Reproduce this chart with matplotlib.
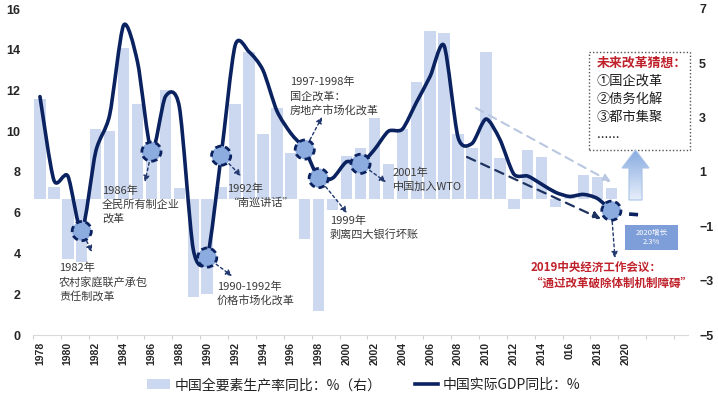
import numpy as np
import matplotlib
matplotlib.use("Agg")
import matplotlib.pyplot as plt
from matplotlib.path import Path
from matplotlib.patches import PathPatch, Patch, Polygon, Rectangle
from matplotlib.lines import Line2D
from matplotlib.colors import LinearSegmentedColormap

plt.rcParams['font.family'] = ['Noto Sans CJK SC', 'DejaVu Sans']

# data
years = list(range(1978, 2020))
gdp = [11.7, 7.6, 7.8, 5.1, 9.0, 10.8, 15.2, 13.4, 9.0, 11.7,
       11.2, 4.2, 3.8, 8.8, 14.2, 13.9, 13.0, 11.0, 9.9, 9.1,
       7.7, 7.7, 8.5, 8.4, 9.1, 10.0, 10.1, 11.4, 12.7, 14.2,
       9.7, 9.4, 10.6, 9.6, 7.9, 7.8, 7.4, 7.0, 6.8, 6.9,
       6.7, 6.1]
tfp = [3.7, 0.45, -2.2, -2.3, 2.6, 2.5, 5.55, 3.5, 1.6, 4.0,
       0.4, -3.6, -3.5, 0.45, 3.5, 5.4, 2.4, 3.35, 1.7, -1.45,
       -4.1, -0.4, 1.6, 1.9, 3.0, 1.3, 2.6, 4.3, 6.2, 6.1,
       2.4, 1.9, 5.4, 1.5, -0.35, 1.8, 1.55, -0.3, 0.05, 0.9,
       0.8, 0.4]
proj_years = [2019, 2020, 2021]
proj_gdp = [6.1, 5.95, 5.9]
marker_years = [1981, 1986, 1990, 1991, 1997, 1998, 2001, 2019]
tick_years = list(range(1978, 2021, 2))
tick_labels = [str(y) for y in tick_years]
tick_labels[tick_years.index(2016)] = '016'

NAVY = '#0b2260'
BAR = '#cbd8ef'
TXT = '#3a3a3a'
RED = '#c0222c'


def smooth_path(xs, ys, k=0.13):
    pts = np.column_stack([xs, ys]).astype(float)
    n = len(pts)
    verts = [pts[0]]
    codes = [Path.MOVETO]
    for i in range(n - 1):
        p0 = pts[i - 1] if i > 0 else pts[i]
        p1, p2 = pts[i], pts[i + 1]
        p3 = pts[i + 2] if i + 2 < n else pts[i + 1]
        verts += [p1 + (p2 - p0) * k, p2 - (p3 - p1) * k, p2]
        codes += [Path.CURVE4] * 3
    return Path(verts, codes)


W, H = 718, 395
fig = plt.figure(figsize=(W / 100, H / 100), dpi=100)
ax = fig.add_axes([33 / W, 1 - 335 / H, (688 - 33) / W, (335 - 9) / H])
ax2 = ax.twinx()
ax.set_zorder(ax2.get_zorder() + 1)
ax.patch.set_visible(False)

# bars on right axis
ax2.bar(years, tfp, width=0.82, color=BAR, zorder=1)
ax2.set_ylim(-5, 7)
ax2.set_yticks(range(-5, 8, 2))

# GDP line on left axis
ax.add_patch(PathPatch(smooth_path(years, gdp), fill=False, edgecolor=NAVY,
                       lw=2.6, capstyle='round', joinstyle='round', zorder=3))
ax.plot(proj_years, proj_gdp, color=NAVY, lw=2.6, linestyle=(0, (2.5, 2.5)), zorder=3)

ax.set_xlim(1977.5, 2024.5)
ax.set_ylim(0, 16)
ax.set_yticks(range(0, 17, 2))
ax.set_xticks(tick_years)
ax.set_xticklabels(tick_labels, rotation=90)
ax.set_xticks(np.arange(1977.5, 2024.6, 2), minor=True)
ax.tick_params(axis='x', which='major', length=0, pad=5)
ax.tick_params(axis='x', which='minor', length=3, color='#d0d0d0', width=0.8)
ax.tick_params(axis='y', length=0, pad=9)
ax2.tick_params(axis='y', length=0, pad=8)
for a in (ax, ax2):
    for s in a.spines.values():
        s.set_visible(False)
    for lab in a.get_xticklabels() + a.get_yticklabels():
        lab.set_fontfamily('Liberation Sans')
        lab.set_fontweight('bold')
        lab.set_color('#262626')
        lab.set_fontsize(9)
for lab in ax.get_xticklabels():
    lab.set_fontsize(7.5)
ax.spines['bottom'].set_visible(True)
ax.spines['bottom'].set_color('#d9d9d9')


def fp(x, y):
    return (x, H - y)


# arrows from markers to notes
heads = {1981: (92, 252), 1986: (145, 182), 1990: (232, 276), 1991: (241, 176),
         1997: (322, 117), 1998: (347, 213), 2001: (386, 182), 2019: (615, 258)}
for yr in marker_years:
    g = gdp[years.index(yr)]
    ax.annotate('', xy=fp(*heads[yr]), xycoords='figure pixels', xytext=(yr, g),
                textcoords='data',
                arrowprops=dict(arrowstyle='-|>', color='#22386e', lw=1,
                                linestyle=(0, (2, 2)), mutation_scale=9,
                                shrinkA=0, shrinkB=0), zorder=2)

# trend arrows
ax.annotate('', xy=fp(611, 182), xycoords='figure pixels', xytext=fp(476, 108),
            textcoords='figure pixels',
            arrowprops=dict(arrowstyle='-|>', color='#b9c8e0', lw=1.5,
                            linestyle=(0, (4, 3)), mutation_scale=11,
                            shrinkA=0, shrinkB=0), zorder=2)
ax.annotate('', xy=fp(601, 219), xycoords='figure pixels', xytext=fp(467, 157),
            textcoords='figure pixels',
            arrowprops=dict(arrowstyle='-|>', color='#1d325f', lw=1.6,
                            linestyle=(0, (4, 3)), mutation_scale=11,
                            shrinkA=0, shrinkB=0), zorder=2)

# markers
mx = marker_years
my = [gdp[years.index(y)] for y in marker_years]
ax.scatter(mx, my, s=190, facecolor='#8cacdf', edgecolor=NAVY, linewidths=2,
           linestyles=(0, (2.2, 1.4)), zorder=5)


def notes(lines, x, y0, step, color=TXT, size=8, weight='normal'):
    for i, s in enumerate(lines):
        fig.text(x / W, 1 - (y0 + i * step) / H, s, color=color, fontsize=size,
                 fontweight=weight, ha='left', va='center')


notes(['1982年', '农村家庭联产承包', '责任制改革'], 59, 268, 14)
notes(['1986年', '全民所有制企业', '改革'], 102, 191, 13.5)
notes(['1990-1992年', '价格市场化改革'], 217, 287, 13)
notes(['1992年', '“南巡讲话”'], 227, 189, 14)
notes(['1997-1998年', '国企改革：', '房地产市场化改革'], 290, 82, 14)
notes(['1999年', '剥离四大银行坏账'], 330, 221, 14)
notes(['2001年', '中国加入WTO'], 393, 173, 14)
notes(['2019中央经济工作会议：', '“通过改革破除体制机制障碍”'], 531, 267, 16.5,
      color=RED, size=8.3, weight='bold')

# future reform box
fig.add_artist(Rectangle((589 / W, 1 - 150 / H), 101 / W, 98 / H,
                         transform=fig.transFigure, facecolor='white',
                         edgecolor='#555555', lw=1, linestyle=(0, (1, 1.5))))
notes(['未来改革猜想：'], 597, 63, 0, color=RED, size=9.3, weight='bold')
notes(['①国企改革', '②债务化解', '③都市集聚', '......'], 597, 81.5, 17.8,
      color='#1a1a1a', size=9.5)

# up arrow with gradient
def d(px, py):
    return (1977.5 + (px - 33) / 13.936, (335 - py) / 20.375)


arrow_pts = [d(629, 200), d(629, 168), d(622, 168), d(635.5, 150),
             d(649, 168), d(642, 168), d(642, 200)]
arr = Polygon(arrow_pts, closed=True, facecolor='none', edgecolor='#a9c2e8',
              lw=0.8, zorder=4)
ax.add_patch(arr)
cmap = LinearSegmentedColormap.from_list('g', ['#e6eefa', '#86aae0'])
x0, y0 = d(622, 200)
x1, y1 = d(649, 150)
im = ax.imshow(np.linspace(0, 1, 64).reshape(-1, 1), extent=[x0, x1, y0, y1],
               origin='lower', cmap=cmap, aspect='auto', zorder=3.9)
im.set_clip_path(arr)
ax.set_xlim(1977.5, 2024.5)
ax.set_ylim(0, 16)

# 2020 growth box
fig.add_artist(Rectangle((625 / W, 1 - 250 / H), 53 / W, 25 / H,
                         transform=fig.transFigure, facecolor='#7d9ed8',
                         edgecolor='none'))
fig.text(651.5 / W, 1 - 237.5 / H, '2020增长\n2.3%', color='white', fontsize=5.5,
         ha='center', va='center', linespacing=1.2)

# legend
handles = [Patch(facecolor=BAR, edgecolor='none'),
           Line2D([], [], color=NAVY, lw=2.6)]
labels = ['中国全要素生产率同比：%（右）', '中国实际GDP同比：%']
leg = fig.legend(handles, labels, loc='center', bbox_to_anchor=(0.506, 1 - 385 / H),
                 ncol=2, frameon=False, fontsize=10, handlelength=1.7,
                 handletextpad=0.3, columnspacing=2.4)
for t in leg.get_texts():
    t.set_color('#222222')

fig.savefig('out.png', dpi=100)
